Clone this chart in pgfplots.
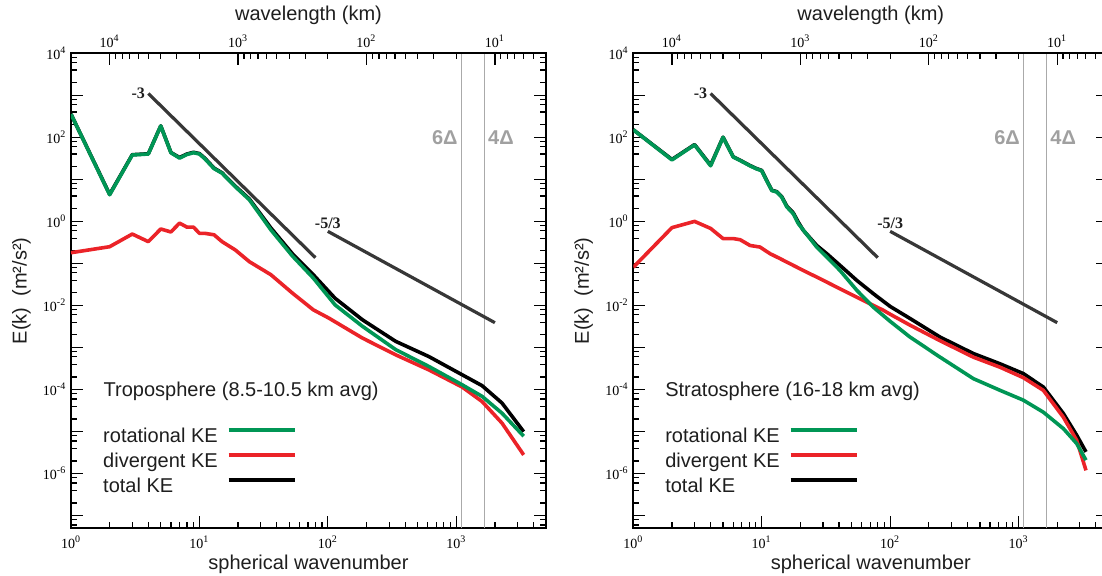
\documentclass[border=0pt]{standalone}
\usepackage{fontspec}
\setmainfont{Liberation Serif}
\setsansfont{Liberation Sans}
\usepackage{pgfplots}
\pgfplotsset{compat=1.18}

\definecolor{rotc}{RGB}{0,150,85}
\definecolor{divc}{RGB}{235,35,40}
\definecolor{totc}{RGB}{0,0,0}
\definecolor{slopec}{RGB}{55,55,55}
\definecolor{deltac}{RGB}{170,170,170}
\definecolor{deltatxt}{RGB}{160,160,160}
\definecolor{txt}{RGB}{30,30,30}

\begin{document}
\begin{tikzpicture}

% ---------------- Troposphere panel ----------------
\begin{axis}[
    xmode=log, ymode=log, scale only axis,
    width=237.5pt, height=237.6pt,
    at={(35.5pt,23.8pt)}, anchor=south west,
    xmin=1, xmax=5000, ymin=5e-8, ymax=1e4,
    tick align=inside, xtick pos=left, ytick pos=both,
    xtick={1,10,100,1000},
    xticklabels={{10\textsuperscript{0}},{10\textsuperscript{1}},{10\textsuperscript{2}},{10\textsuperscript{3}}},
    minor xtick={2,3,4,5,6,7,8,9,20,30,40,50,60,70,80,90,200,300,400,500,600,700,800,900,2000,3000,4000,5000},
    ytick={1e-7,1e-6,1e-5,1e-4,1e-3,1e-2,1e-1,1,10,100,1000,10000},
    yticklabels={{},{10\textsuperscript{-6}},{},{10\textsuperscript{-4}},{},{10\textsuperscript{-2}},{},{10\textsuperscript{0}},{},{10\textsuperscript{2}},{},{10\textsuperscript{4}}},
    minor ytick={6e-8,8e-8,2e-7,4e-7,6e-7,8e-7,2e-6,4e-6,6e-6,8e-6,2e-5,4e-5,6e-5,8e-5,2e-4,4e-4,6e-4,8e-4,2e-3,4e-3,6e-3,8e-3,0.02,0.04,0.06,0.08,0.2,0.4,0.6,0.8,2,4,6,8,20,40,60,80,200,400,600,800,2000,4000,6000,8000},
    major tick length=6pt, minor tick length=3pt,
    tick style={black, line width=0.6pt},
    axis line style={line width=1pt},
    tick label style={font=\rmfamily\fontsize{7}{8}\selectfont},
    xticklabel style={inner sep=0pt, yshift=-3.5pt},
    yticklabel style={inner sep=0pt, xshift=-2.15pt},
    label style={font=\sffamily\fontsize{10}{12}\selectfont, text=txt},
    xlabel style={at={(axis description cs:0.5,-0.0869)}, anchor=base},
    ylabel style={at={(axis description cs:-0.0935,0.5)}, anchor=base},
    xlabel={spherical wavenumber},
    ylabel={E(k)\ \ (m²/s²)},
    legend style={at={(0.067,0.214)}, anchor=north west, draw=none, fill=none,
      inner sep=0pt, row sep=2.5pt, column sep=4.5pt, text=txt,
      font=\sffamily\fontsize{10}{12}\selectfont,
      nodes={inner sep=0pt, text height=7.5pt, text depth=2.5pt}},
    legend cell align=left, legend plot pos=right,
    legend image code/.code={\draw[#1] (0pt,3.5pt) -- (33pt,3.5pt);},
]
\addplot[deltac, line width=0.6pt, forget plot] coordinates {(1100,5e-8) (1100,1e4)};
\addplot[deltac, line width=0.6pt, forget plot] coordinates {(1650,5e-8) (1650,1e4)};
\addplot[slopec, line width=1.6pt, forget plot] coordinates {(4,1100) (80,0.1375)};
\addplot[slopec, line width=1.6pt, forget plot] coordinates {(100,0.58) (2000,0.0039)};
% total KE
\addplot[totc, line width=1.8pt, line join=round, forget plot] coordinates {
(1,355) (2,4.4) (3,38.5) (4,40.5) (5,187) (6,43.5) (7,33) (8,40) (9,44) (10,41)
(11,32) (13,18.5) (15,14.3) (19,6.9) (24.5,3.4) (36,0.7) (53,0.17) (77,0.054)
(114,0.0148) (186,4.57e-3) (338,1.4e-3) (612,6.1e-4) (1112,2.25e-4)
(1589,1.24e-4) (2270,4.8e-5) (3350,1.0e-5)};
% divergent KE
\addplot[divc, line width=1.8pt, line join=round, forget plot] coordinates {
(1,0.18) (2,0.25) (3,0.50) (4,0.33) (5,0.66) (6,0.56) (7,0.91) (8,0.73) (9,0.73)
(10,0.52) (11,0.52) (13,0.48) (15,0.33) (19,0.21) (24.5,0.11) (36,0.054) (53,0.0197)
(77,7.9e-3) (102,5.0e-3) (186,1.68e-3) (338,6.7e-4) (612,2.94e-4) (1112,1.15e-4)
(1589,5.2e-5) (2270,1.6e-5) (3350,2.8e-6)};
% rotational KE
\addplot[rotc, line width=1.8pt, line join=round, forget plot] coordinates {
(1,355) (2,4.3) (3,38) (4,40) (5,186) (6,43) (7,32) (8,39) (9,43) (10,40)
(11,31) (13,18) (15,14) (19,6.7) (24.5,3.26) (36,0.63) (53,0.15) (77,0.045)
(114,0.0103) (186,3.2e-3) (338,8.9e-4) (612,3.55e-4) (1112,1.3e-4)
(1589,6.9e-5) (2270,2.75e-5) (3350,7.8e-6)};
\addlegendimage{rotc, line width=1.8pt}
\addlegendentry{rotational KE}
\addlegendimage{divc, line width=1.8pt}
\addlegendentry{divergent KE}
\addlegendimage{totc, line width=1.8pt}
\addlegendentry{total KE}
\node[anchor=east, inner sep=0pt, xshift=-1.8pt, text=deltatxt, font=\sffamily\bfseries\fontsize{10}{12}\selectfont] at (axis cs:1100,100) {6Δ};
\node[anchor=west, inner sep=0pt, xshift=1.8pt, text=deltatxt, font=\sffamily\bfseries\fontsize{10}{12}\selectfont] at (axis cs:1650,100) {4Δ};
\node[anchor=east, inner sep=0pt, xshift=-1.5pt, text=txt, font=\rmfamily\bfseries\fontsize{8}{9}\selectfont] at (axis cs:4,1100) {-3};
\node[anchor=south, inner sep=0pt, yshift=1.2pt, text=txt, font=\rmfamily\bfseries\fontsize{8}{9}\selectfont] at (axis cs:100,0.58) {-5/3};
\node[anchor=base west, inner sep=0pt, text=txt, font=\sffamily\fontsize{10}{12}\selectfont] at (rel axis cs:0.068,0.277) {Troposphere (8.5-10.5 km avg)};
\end{axis}
% wavelength axis on top
\begin{axis}[
    xmode=log, scale only axis, width=237.5pt, height=237.6pt,
    at={(35.5pt,23.8pt)}, anchor=south west,
    xmin=1, xmax=5000, ymin=0, ymax=1,
    axis x line*=top, axis y line=none,
    tick align=inside,
    xtick={2,20,200,2000},
    xticklabels={{10\textsuperscript{4}},{10\textsuperscript{3}},{10\textsuperscript{2}},{10\textsuperscript{1}}},
    minor xtick={2.2222,2.5,2.8571,3.3333,4,5,6.6667,10,22.222,25,28.571,33.333,40,50,66.667,100,222.22,250,285.71,333.33,400,500,666.67,1000,2222.2,2500,2857.1,3333.3,4000},
    major tick length=6pt, minor tick length=3pt,
    tick style={black, line width=0.6pt},
    axis line style={line width=1pt},
    tick label style={font=\rmfamily\fontsize{7}{8}\selectfont},
    xticklabel style={inner sep=0pt, yshift=2.7pt},
    label style={font=\sffamily\fontsize{10}{12}\selectfont, text=txt},
    xlabel={wavelength (km)},
    xlabel style={at={(axis description cs:0.5,1.0679)}, anchor=base},
]
\addplot[draw=none] coordinates {(1,0.5) (5000,0.5)};
\end{axis}

% ---------------- Stratosphere panel ----------------
\begin{axis}[
    xmode=log, ymode=log, scale only axis,
    width=237.5pt, height=237.6pt,
    at={(316.65pt,23.8pt)}, anchor=south west,
    xmin=1, xmax=5000, ymin=5e-8, ymax=1e4,
    tick align=inside, xtick pos=left, ytick pos=both,
    xtick={1,10,100,1000},
    xticklabels={{10\textsuperscript{0}},{10\textsuperscript{1}},{10\textsuperscript{2}},{10\textsuperscript{3}}},
    minor xtick={2,3,4,5,6,7,8,9,20,30,40,50,60,70,80,90,200,300,400,500,600,700,800,900,2000,3000,4000,5000},
    ytick={1e-7,1e-6,1e-5,1e-4,1e-3,1e-2,1e-1,1,10,100,1000,10000},
    yticklabels={{},{10\textsuperscript{-6}},{},{10\textsuperscript{-4}},{},{10\textsuperscript{-2}},{},{10\textsuperscript{0}},{},{10\textsuperscript{2}},{},{10\textsuperscript{4}}},
    minor ytick={6e-8,8e-8,2e-7,4e-7,6e-7,8e-7,2e-6,4e-6,6e-6,8e-6,2e-5,4e-5,6e-5,8e-5,2e-4,4e-4,6e-4,8e-4,2e-3,4e-3,6e-3,8e-3,0.02,0.04,0.06,0.08,0.2,0.4,0.6,0.8,2,4,6,8,20,40,60,80,200,400,600,800,2000,4000,6000,8000},
    major tick length=6pt, minor tick length=3pt,
    tick style={black, line width=0.6pt},
    axis line style={line width=1pt},
    tick label style={font=\rmfamily\fontsize{7}{8}\selectfont},
    xticklabel style={inner sep=0pt, yshift=-3.5pt},
    yticklabel style={inner sep=0pt, xshift=-2.15pt},
    label style={font=\sffamily\fontsize{10}{12}\selectfont, text=txt},
    xlabel style={at={(axis description cs:0.5,-0.0869)}, anchor=base},
    ylabel style={at={(axis description cs:-0.0935,0.5)}, anchor=base},
    xlabel={spherical wavenumber},
    ylabel={E(k)\ \ (m²/s²)},
    legend style={at={(0.0665,0.214)}, anchor=north west, draw=none, fill=none,
      inner sep=0pt, row sep=2.5pt, column sep=4.5pt, text=txt,
      font=\sffamily\fontsize{10}{12}\selectfont,
      nodes={inner sep=0pt, text height=7.5pt, text depth=2.5pt}},
    legend cell align=left, legend plot pos=right,
    legend image code/.code={\draw[#1] (0pt,3.5pt) -- (33pt,3.5pt);},
]
\addplot[deltac, line width=0.6pt, forget plot] coordinates {(1100,5e-8) (1100,1e4)};
\addplot[deltac, line width=0.6pt, forget plot] coordinates {(1650,5e-8) (1650,1e4)};
\addplot[slopec, line width=1.6pt, forget plot] coordinates {(4,1100) (80,0.1375)};
\addplot[slopec, line width=1.6pt, forget plot] coordinates {(100,0.58) (2000,0.0039)};
% total KE
\addplot[totc, line width=1.8pt, line join=round, forget plot] coordinates {
(1,151.1) (2,29.7) (3,67) (4,21.7) (5,100.4) (6,34.4) (6.8,28.4) (8.1,21.3) (9,18.3)
(10,16.3) (10.9,9.6) (12,5.5) (13.1,5.1) (14.3,3.9) (15.7,2.3) (17.6,1.6) (19.3,0.95)
(21.1,0.61) (26.8,0.268) (32.1,0.171) (40.7,0.09) (55,0.0395) (74,0.0191) (100,9.5e-3)
(143,4.9e-3) (245,1.77e-3) (445,7.2e-4) (718,4.1e-4) (1090,2.4e-4) (1560,1.15e-4)
(2234,2.7e-5) (2838,8.2e-6) (3350,3.3e-6)};
% divergent KE
\addplot[divc, line width=1.8pt, line join=round, forget plot] coordinates {
(1,0.081) (2,0.71) (3,1.0) (4,0.68) (5,0.39) (6,0.39) (6.8,0.366) (8.1,0.268) (9.7,0.245)
(11.6,0.171) (13.9,0.13) (17.6,0.09) (22.4,0.062) (28.4,0.0435) (36.1,0.030) (48.7,0.019)
(65.7,0.012) (88.5,7.7e-3) (100,6.2e-3) (143,3.4e-3) (245,1.45e-3) (445,5.9e-4)
(718,3.4e-4) (1090,1.92e-4) (1560,9.6e-5) (2234,2.2e-5) (2838,6.2e-6) (3350,1.2e-6)};
% rotational KE
\addplot[rotc, line width=1.8pt, line join=round, forget plot] coordinates {
(1,151) (2,29) (3,66) (4,21) (5,100) (6,34) (6.8,28) (8.1,21) (9,18)
(10,16) (10.9,9.4) (12,5.4) (13.1,5.0) (14.3,3.8) (15.7,2.2) (17.6,1.52) (19.3,0.88)
(21.7,0.556) (26.8,0.245) (32.1,0.142) (40.7,0.068) (55,0.023) (74,9.1e-3) (100,4.2e-3)
(143,1.77e-3) (245,5.9e-4) (445,1.82e-4) (718,9.6e-5) (1090,5.6e-5) (1560,2.9e-5)
(2234,1.18e-5) (2838,5.2e-6) (3350,2.1e-6)};
\addlegendimage{rotc, line width=1.8pt}
\addlegendentry{rotational KE}
\addlegendimage{divc, line width=1.8pt}
\addlegendentry{divergent KE}
\addlegendimage{totc, line width=1.8pt}
\addlegendentry{total KE}
\node[anchor=east, inner sep=0pt, xshift=-1.8pt, text=deltatxt, font=\sffamily\bfseries\fontsize{10}{12}\selectfont] at (axis cs:1100,100) {6Δ};
\node[anchor=west, inner sep=0pt, xshift=1.8pt, text=deltatxt, font=\sffamily\bfseries\fontsize{10}{12}\selectfont] at (axis cs:1650,100) {4Δ};
\node[anchor=east, inner sep=0pt, xshift=-1.5pt, text=txt, font=\rmfamily\bfseries\fontsize{8}{9}\selectfont] at (axis cs:4,1100) {-3};
\node[anchor=south, inner sep=0pt, yshift=1.2pt, text=txt, font=\rmfamily\bfseries\fontsize{8}{9}\selectfont] at (axis cs:100,0.58) {-5/3};
\node[anchor=base west, inner sep=0pt, text=txt, font=\sffamily\fontsize{10}{12}\selectfont] at (rel axis cs:0.0665,0.277) {Stratosphere (16-18 km avg)};
\end{axis}
% wavelength axis on top
\begin{axis}[
    xmode=log, scale only axis, width=237.5pt, height=237.6pt,
    at={(316.65pt,23.8pt)}, anchor=south west,
    xmin=1, xmax=5000, ymin=0, ymax=1,
    axis x line*=top, axis y line=none,
    tick align=inside,
    xtick={2,20,200,2000},
    xticklabels={{10\textsuperscript{4}},{10\textsuperscript{3}},{10\textsuperscript{2}},{10\textsuperscript{1}}},
    minor xtick={2.2222,2.5,2.8571,3.3333,4,5,6.6667,10,22.222,25,28.571,33.333,40,50,66.667,100,222.22,250,285.71,333.33,400,500,666.67,1000,2222.2,2500,2857.1,3333.3,4000},
    major tick length=6pt, minor tick length=3pt,
    tick style={black, line width=0.6pt},
    axis line style={line width=1pt},
    tick label style={font=\rmfamily\fontsize{7}{8}\selectfont},
    xticklabel style={inner sep=0pt, yshift=2.7pt},
    label style={font=\sffamily\fontsize{10}{12}\selectfont, text=txt},
    xlabel={wavelength (km)},
    xlabel style={at={(axis description cs:0.5,1.0679)}, anchor=base},
]
\addplot[draw=none] coordinates {(1,0.5) (5000,0.5)};
\end{axis}

\pgfresetboundingbox
\path[use as bounding box] (0,0) rectangle (551pt,288pt);
\end{tikzpicture}
\end{document}
